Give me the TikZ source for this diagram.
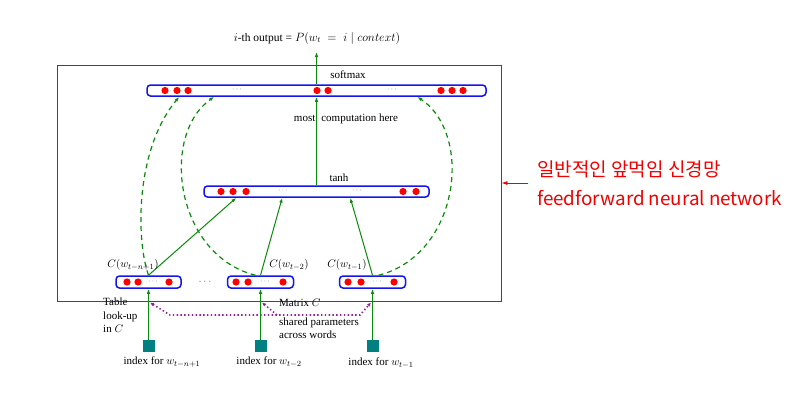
\documentclass[tikz,border=0pt]{standalone}
\usepackage{fontspec}
\setmainfont{Liberation Serif}
\newfontfamily\kr{Noto Sans CJK KR}
\usetikzlibrary{arrows.meta,calc}
\definecolor{gr}{RGB}{10,140,10}
\definecolor{bl}{RGB}{20,20,240}
\definecolor{tl}{RGB}{0,128,128}
\definecolor{pp}{RGB}{150,30,160}
\definecolor{rd}{RGB}{240,0,0}
\begin{document}
\begin{tikzpicture}[x=1pt,y=-1pt,
  font=\fontsize{11}{13}\selectfont,
  bar/.style={draw=bl, line width=1.5pt, rounded corners=3.5pt, inner sep=0pt, minimum height=11pt},
  sq/.style={fill=tl, minimum size=12pt, inner sep=0pt},
  garr/.style={draw=gr, line width=1pt, -{Latex[length=5pt,width=3.5pt]}},
  gdash/.style={draw=gr, line width=1.2pt, dash pattern=on 5pt off 4pt, -{Latex[length=5pt,width=3.5pt]}},
  pdot/.style={draw=pp, line width=1.6pt, dash pattern=on 1.4pt off 2.4pt},
  ell/.style={font=\footnotesize, text=black!60, inner sep=0pt},
  lbl/.style={inner sep=0pt}]
\fill[white] (0,0) rectangle (809,405);
\useasboundingbox (0,0) rectangle (809,405);

% frame
\node[draw=rd, line width=0.9pt, minimum width=444pt, minimum height=236pt, inner sep=0pt] (frame) at (279,183) {};

% bars
\node[bar, minimum width=339pt] (sm) at (316.5,90.5) {};
\node[bar, minimum width=225pt] (th) at (316.5,191.5) {};
\node[bar, minimum width=65pt, minimum height=12pt] (b1) at (148.5,282) {};
\node[bar, minimum width=66pt, minimum height=12pt] (b2) at (260.5,282) {};
\node[bar, minimum width=66pt, minimum height=12pt] (b3) at (372.5,282) {};

% dots
\foreach \x in {165,177,188,317,328,441,452,463} \fill[red] (\x,90.5) circle (3.6);
\node[ell] (e1) at (237,90) {$\cdots$};
\node[ell] (e2) at (392,90) {$\cdots$};
\foreach \x in {221,233,246,403,416} \fill[red] (\x,191.5) circle (3.6);
\node[ell] (e3) at (283,191) {$\cdots$};
\node[ell] (e4) at (357,191) {$\cdots$};
\foreach \x in {127,138,169, 236,248,283, 348,361,394} \fill[red] (\x,282) circle (3.6);
\node[ell] (e5) at (153,281.5) {$\cdots$};
\node[ell] (e6) at (265,281.5) {$\cdots$};
\node[ell] (e7) at (377,281.5) {$\cdots$};
\node[inner sep=0pt, text=black!60] (e8) at (205,282) {$\cdots$};

% squares
\node[sq] (s1) at (148.5,346) {};
\node[sq] (s2) at (260.5,346) {};
\node[sq] (s3) at (372.5,346) {};

% purple dotted bracket
\coordinate (m1) at (150,302.5);
\coordinate (m2) at (262,302.5);
\coordinate (m3) at (371,302.5);
\coordinate (h1) at (170,315);
\coordinate (h2) at (277,315);
\coordinate (h3) at (360,315);
\draw[pdot, {Latex[length=4pt,width=3.5pt]}-{Latex[length=4pt,width=3.5pt]}] (m1) -- (h1) -- (h3) -- (m3);
\draw[pdot, -{Latex[length=4pt,width=3.5pt]}] (h2) -- (m2);

% input arrows
\draw[garr] (s1) -- (b1);
\draw[garr] (s2) -- (b2);
\draw[garr] (s3) -- (b3);

% to tanh
\draw[garr] (b1.north) -- ([xshift=33pt]th.south west);
\draw[garr] (b2.north) -- ([xshift=79pt]th.south west);
\draw[garr] (b3.north) -- ([xshift=147pt]th.south west);
\draw[garr] (th.north) -- (sm.south);
\coordinate (out) at (316.5,52);
\draw[garr] (sm.north) -- (out);

% dashed skip connections
\draw[gdash] (b1.north) .. controls (136,240) and (135,150) .. ([xshift=33pt]sm.south west);
\draw[gdash] ([xshift=-5pt]b2.north) .. controls (175,255) and (160,135) .. ([xshift=68pt]sm.south west);
\draw[gdash] ([xshift=6pt]b3.north) .. controls (459,255) and (474,135) .. ([xshift=271pt]sm.south west);

% texts
\node[lbl, font=\fontsize{11.5}{13}\selectfont] (title) at (317,38) {$i$-th output = $P(w_t\;=\;i\;|\;context)$};
\node[lbl] (tsm) at (348,75) {softmax};
\node[lbl, fill=white, inner xsep=0pt] (tmc) at (346,119) {most\hspace{6pt}computation here};
\draw[draw=gr, line width=1pt] (316.5,112) -- (316.5,126);
\node[lbl] (tth) at (339,178) {tanh};
\node[lbl] (c1) at (133,265) {$C(w_{t-n+1})$};
\node[lbl] (c2) at (289,265) {$C(w_{t-2})$};
\node[lbl] (c3) at (347,265) {$C(w_{t-1})$};
\node[lbl, anchor=north west, align=left, font=\fontsize{11}{13.5}\selectfont] (tab) at (103,298) {Table\\look-up\\in $C$};
\node[lbl, anchor=west] (mat) at (279,303) {Matrix $C$};
\node[lbl, anchor=north west, align=left, font=\fontsize{11}{12.5}\selectfont] (shp) at (279,318) {shared parameters\\across words};
\node[lbl] (i1) at (162,362) {index for $w_{t-n+1}$};
\node[lbl] (i2) at (269,362) {index for $w_{t-2}$};
\node[lbl] (i3) at (381,363) {index for $w_{t-1}$};

% red annotation
\node[anchor=west, inner sep=0pt, text=rd, align=left, font=\kr\fontsize{19}{29}\selectfont] (ff) at (537,183) {일반적인 앞먹임 신경망\\\fontsize{18.8}{29}\selectfont feedforward neural network};
\draw[rd, line width=0.8pt, -{Latex[length=6pt,width=4pt]}] ([xshift=-9pt]ff.west) -- (frame.east);
\end{tikzpicture}
\end{document}
